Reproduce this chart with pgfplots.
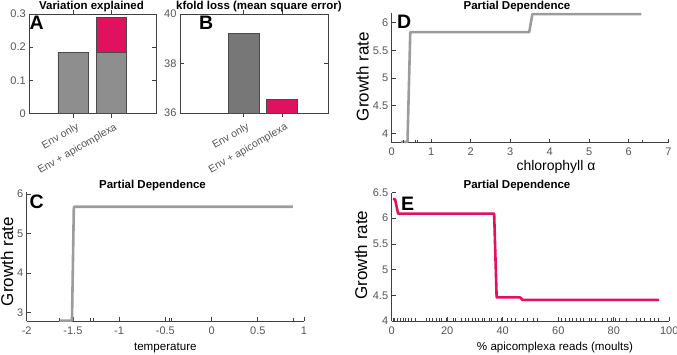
\documentclass[border=0pt]{standalone}
\usepackage{fontspec}
\setmainfont{Liberation Sans}
\usepackage{pgfplots}
\pgfplotsset{compat=1.18}

\definecolor{pinkc}{HTML}{E0115F}
\definecolor{grayline}{HTML}{9C9C9C}
\definecolor{barA}{HTML}{8E8E8E}
\definecolor{barB}{HTML}{777777}
\definecolor{edgec}{HTML}{4A4A4A}
\definecolor{tickc}{HTML}{555555}
\definecolor{axc}{HTML}{404040}

\pgfplotsset{
 base/.style={scale only axis, anchor=south west,
   /pgf/number format/assume math mode=true,
   /pgf/number format/fixed,
   ticklabel style={font=\fontsize{11}{13}\selectfont, text=tickc},
   axis line style={draw=axc, line width=0.7pt},
   tick style={draw=axc, line width=0.6pt},
   major tick length=4pt,
   tick align=inside,
 },
 pd/.style={base, axis lines*=left, clip=false,
   xticklabel style={yshift=-2pt}},
 rug/.style={only marks, mark=|, mark size=1.5pt,
   mark options={draw=axc, line width=0.5pt, yshift=1.5pt}},
 catlab/.style={xticklabel style={font=\fontsize{10.5}{12}\selectfont, rotate=30, anchor=north east, xshift=3pt, yshift=-2pt}},
}

\begin{document}
\begin{tikzpicture}
\useasboundingbox (0,0) rectangle (677pt,354pt);

% Panel A
\begin{axis}[base, catlab, at={(29.3pt,240.5pt)}, width=126.7pt, height=99.5pt,
  xmin=-0.149, xmax=3.167, ymin=0, ymax=0.3,
  ytick={0,0.1,0.2,0.3}, xtick={1,2},
  xticklabels={Env only, Env + apicomplexa},
  ybar, bar width=0.8, bar shift=0pt]
\addplot[fill=pinkc, draw=edgec, line width=0.7pt] coordinates {(2,0.29)};
\addplot[fill=barA, draw=edgec, line width=0.7pt] coordinates {(1,0.185) (2,0.185)};
\end{axis}

% Panel B
\begin{axis}[base, catlab, at={(180pt,241pt)}, width=148pt, height=99pt,
  xmin=-0.65, xmax=3.19, ymin=36, ymax=40,
  ytick={36,38,40}, xtick={1,2},
  xticklabels={Env only, Env + apicomplexa},
  ybar, bar width=0.8, bar shift=0pt]
\addplot[fill=barB, draw=edgec, line width=0.7pt] coordinates {(1,39.22)};
\addplot[fill=pinkc, draw=edgec, line width=0.7pt] coordinates {(2,36.57)};
\end{axis}

% Panel D
\begin{axis}[pd, at={(391.7pt,211.3pt)}, width=276.6pt, height=129.4pt,
  xmin=0, xmax=7, ymin=3.83, ymax=6.17,
  xtick={0,1,...,7}, ytick={4,4.5,5,5.5,6}]
\addplot[rug] coordinates {(0.28,3.83) (0.59,3.83) (0.65,3.83) (6.33,3.83)};
\addplot[grayline, line width=2.6pt, line join=round] coordinates {
 (0.24,3.845) (0.40,3.845) (0.47,5.83) (3.48,5.83) (3.56,6.155) (6.32,6.155)};
\end{axis}

% Panel C
\begin{axis}[pd, at={(26.7pt,33pt)}, width=277.3pt, height=129.3pt,
  xmin=-2, xmax=1, ymin=2.79, ymax=6.06,
  xtick={-2,-1.5,...,1}, ytick={3,4,5,6}]
\addplot[rug] coordinates {(-1.65,2.79) (-1.31,2.79) (-1.28,2.79) (-0.46,2.79) (-0.44,2.79) (0.885,2.79)};
\addplot[grayline, line width=2.6pt, line join=round] coordinates {
 (-1.65,2.80) (-1.51,2.80) (-1.49,5.68) (0.88,5.68)};
\end{axis}

% Panel E
\begin{axis}[pd, at={(391.7pt,33pt)}, width=277.6pt, height=128.5pt,
  xmin=0, xmax=100, ymin=4, ymax=6.5,
  xtick={0,20,...,100}, ytick={4,4.5,5,5.5,6,6.5}]
\addplot[rug] coordinates {
 (0.5,4) (1,4) (2,4) (3,4) (4,4) (5,4) (6,4) (7,4) (8.5,4)
 (12.5,4) (13.5,4) (14.5,4) (16,4) (17,4) (18,4) (19.5,4)
 (22,4) (23,4) (25,4) (26.5,4) (27.5,4) (29,4) (30,4) (31,4) (32.5,4) (33.5,4)
 (35,4) (36,4) (38,4) (39.5,4) (41.5,4) (43,4) (44.5,4)
 (47.5,4) (49,4) (51,4) (52.5,4)
 (61,4) (62.5,4) (64,4) (65,4) (66.5,4) (68,4) (69,4) (71,4) (72,4) (73.5,4)
 (76,4) (77.5,4) (79,4) (80.5,4) (82,4) (84.5,4)
 (88,4) (89.5,4) (91,4) (93,4) (94.5,4) (96,4)};
\addplot[pinkc, line width=2.6pt, line join=round] coordinates {
 (0.4,6.37) (1.2,6.37) (2.3,6.09) (36.9,6.09) (37.8,4.46) (46.2,4.46) (47.2,4.41) (96.3,4.41)};
\end{axis}

% Titles
\begin{scope}[every node/.style={font=\fontsize{11.5}{13}\bfseries\selectfont, inner sep=0pt, anchor=base}]
\node at (91.5pt,344.5pt) {Variation explained};
\node at (259pt,344.5pt) {kfold loss (mean square error)};
\node at (517pt,344.5pt) {Partial Dependence};
\node at (152.5pt,165.5pt) {Partial Dependence};
\node at (517pt,165.5pt) {Partial Dependence};
\end{scope}

% Panel letters
\begin{scope}[every node/.style={font=\fontsize{19.5}{20}\bfseries\selectfont, inner sep=0pt, anchor=north west}]
\node at (29.5pt,338pt) {A};
\node at (199pt,338pt) {B};
\node at (397pt,339pt) {D};
\node at (29.5pt,159pt) {C};
\node at (401pt,157pt) {E};
\end{scope}

% y labels
\begin{scope}[every node/.style={font=\fontsize{17}{19}\selectfont, inner sep=0pt, rotate=90}]
\node at (362.5pt,277.3pt) {Growth rate};
\node at (7pt,92.3pt) {Growth rate};
\node at (361pt,99pt) {Growth rate};
\end{scope}

% x labels
\node[font=\fontsize{14}{16}\selectfont, inner sep=0pt, anchor=base] at (556pt,184pt) {chlorophyll α};
\node[font=\fontsize{11.6}{13}\selectfont, inner sep=0pt, anchor=base] at (165.3pt,4pt) {temperature};
\node[font=\fontsize{11.6}{13}\selectfont, inner sep=0pt, anchor=base] at (555pt,4pt) {\% apicomplexa reads (moults)};
\end{tikzpicture}
\end{document}
